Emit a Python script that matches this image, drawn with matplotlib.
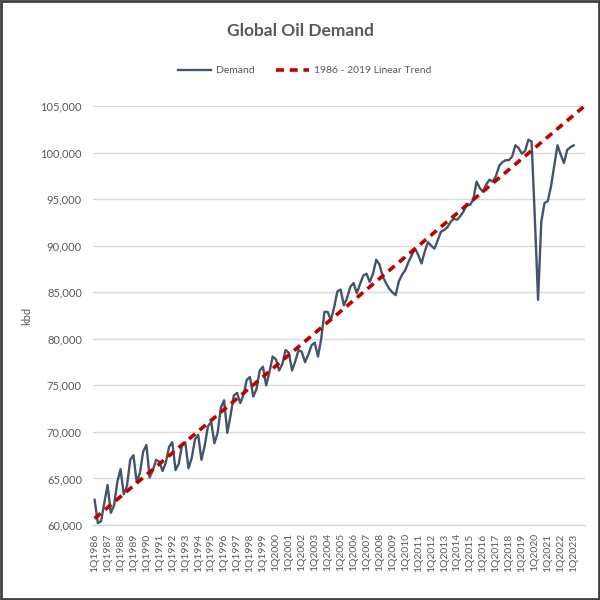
import numpy as np
import matplotlib
matplotlib.use("Agg")
import matplotlib.pyplot as plt
from matplotlib.patches import Rectangle
from matplotlib.ticker import FuncFormatter

plt.rcParams['font.family'] = ['Lato', 'DejaVu Sans']

# ---- data (kbd), quarterly 1Q1986 .. 1Q2023 ----
years = list(range(1986, 2024))
quarters = [f"{q}Q{y}" for y in years for q in range(1, 5)]  # 1Q1986 .. 4Q2023

demand = [
    62700, 60200, 60400, 62400,   # 1986
    64300, 61300, 62100, 64600,   # 1987
    66000, 63300, 64200, 67000,   # 1988
    67500, 64600, 65600, 67900,   # 1989
    68600, 65100, 65900, 67000,   # 1990
    66800, 65800, 66700, 68400,   # 1991
    68900, 65900, 66600, 68600,   # 1992
    68900, 66100, 67200, 69200,   # 1993
    69700, 67000, 68500, 70600,   # 1994
    71100, 68800, 69900, 72600,   # 1995
    73400, 69900, 71800, 73900,   # 1996
    74200, 73100, 74000, 75600,   # 1997
    75900, 73800, 74600, 76600,   # 1998
    77000, 75000, 76400, 78100,   # 1999
    77800, 76600, 77300, 78800,   # 2000
    78500, 76600, 77600, 78800,   # 2001
    78600, 77500, 78300, 79300,   # 2002
    79600, 78100, 80000, 82900,   # 2003
    82900, 82000, 83400, 85100,   # 2004
    85300, 83600, 84400, 85600,   # 2005
    86000, 84900, 85900, 86800,   # 2006
    87000, 86100, 87000, 88500,   # 2007
    88000, 86700, 86000, 85400,   # 2008
    85000, 84700, 86200, 86900,   # 2009
    87400, 88300, 89000, 89700,   # 2010
    89000, 88100, 89400, 90400,   # 2011
    90000, 89700, 90600, 91500,   # 2012
    91700, 92000, 92600, 92900,   # 2013
    92800, 93200, 93700, 94500,   # 2014
    94400, 95000, 96900, 96200,   # 2015
    95800, 96600, 97100, 96900,   # 2016
    97500, 98600, 99000, 99200,   # 2017
    99200, 99600, 100800, 100500, # 2018
    99900, 100200, 101400, 101200,# 2019
    93000, 84200, 92600, 94600,   # 2020
    94800, 96400, 98600, 100800,  # 2021
    99800, 98900, 100300, 100600, # 2022
    100800,                       # 2023
]

trend_first_year = 1986
trend_last_year = 2019

# ---- linear trend fitted on 1986-2019 ----
x_all = np.arange(len(quarters))
x_dem = np.arange(len(demand))
n_fit = (trend_last_year - trend_first_year + 1) * 4
coef = np.polyfit(x_dem[:n_fit], np.array(demand[:n_fit], dtype=float), 1)
trend = np.polyval(coef, x_all)

# ---- figure ----
fig = plt.figure(figsize=(6, 6), dpi=100)
ax = fig.add_axes([0.155, 0.125, 0.82, 0.698])

grey_txt = '#595959'
ax.plot(x_dem, demand, color='#44546A', lw=1.7, label='Demand', zorder=3)
ax.plot(x_all, trend, color='#C00000', lw=2.6, ls=(0, (2.2, 1.6)),
        label='1986 - 2019 Linear Trend', zorder=4)

ax.set_ylim(60000, 105000)
ax.set_xlim(-0.5, len(quarters) - 0.5)
ax.set_yticks(np.arange(60000, 105001, 5000))
ax.yaxis.set_major_formatter(FuncFormatter(lambda v, p: f"{int(v):,}"))
ax.grid(axis='y', color='#D9D9D9', lw=1)
ax.set_axisbelow(True)

xt = list(range(0, len(quarters), 4))
ax.set_xticks(xt)
ax.set_xticklabels([quarters[i] for i in xt], rotation=90, fontsize=7.5,
                   color=grey_txt)
ax.tick_params(axis='x', length=0, pad=6)
ax.tick_params(axis='y', length=0, pad=8, labelsize=8, labelcolor=grey_txt)

for s in ['top', 'right', 'left']:
    ax.spines[s].set_visible(False)
ax.spines['bottom'].set_color('#D9D9D9')
ax.spines['bottom'].set_linewidth(1)

ax.set_ylabel('kbd', color=grey_txt, fontsize=8, labelpad=6)

fig.text(0.5, 0.948, 'Global Oil Demand', ha='center', va='center',
         fontsize=12.5, fontweight='bold', color=grey_txt)

leg = ax.legend(loc='center', bbox_to_anchor=(0.43, 1.085), ncol=2,
                frameon=False, fontsize=7.5, handlelength=3.2,
                columnspacing=2.0, handletextpad=0.5)
for t in leg.get_texts():
    t.set_color(grey_txt)

fig.patches.append(Rectangle((0.002, 0.002), 0.996, 0.996, transform=fig.transFigure,
                             fill=False, edgecolor='#404040', lw=2))

fig.savefig('out.png', dpi=100, facecolor='white')
